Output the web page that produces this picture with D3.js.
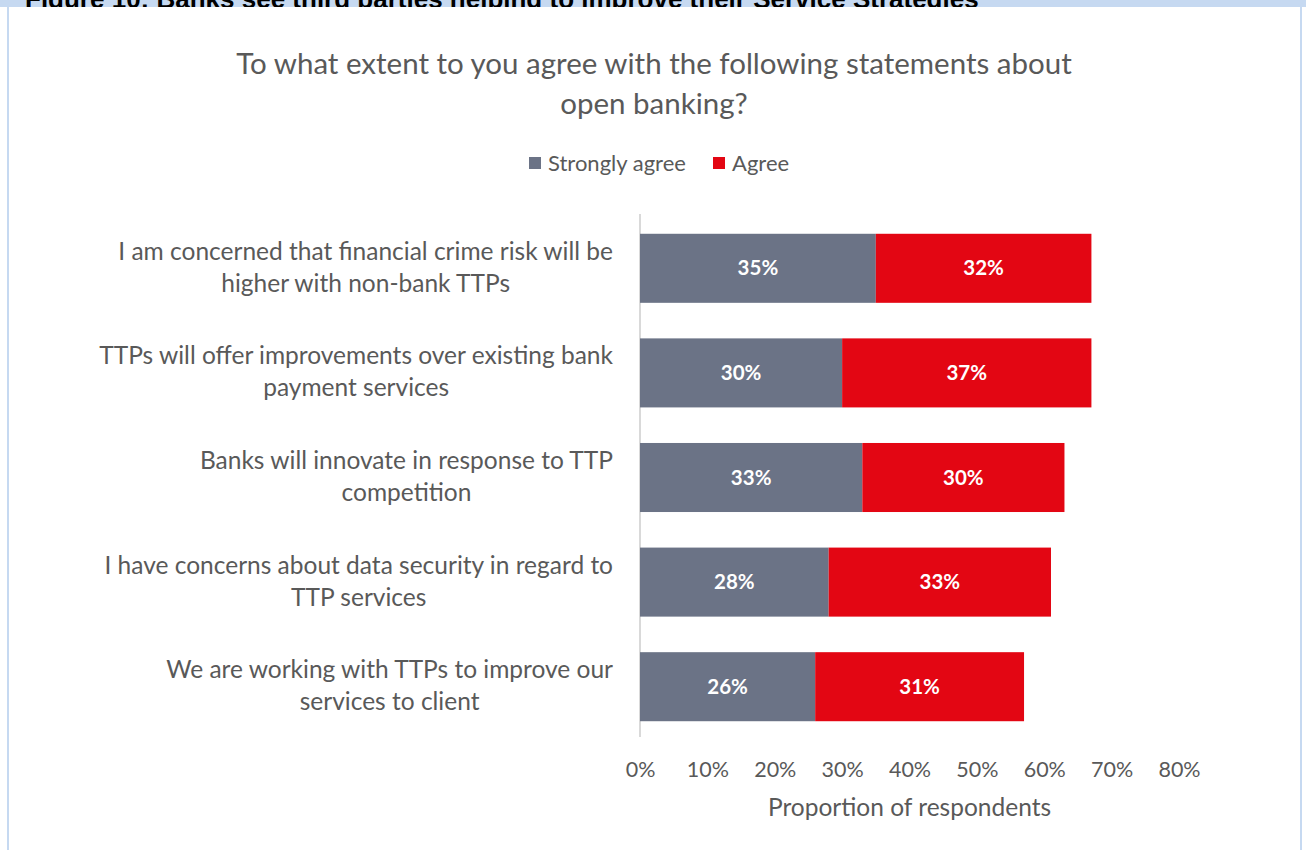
<!DOCTYPE html>
<html>
<head>
<meta charset="utf-8">
<script src="https://cdn.jsdelivr.net/npm/d3@7"></script>
<style>
  html, body { margin: 0; padding: 0; background: #fff; }
  svg { display: block; }
</style>
</head>
<body>
<svg id="chart" width="1306" height="850"></svg>
<script>
// Survey statements (top to bottom) and share of respondents per answer
const categories = [
  ["I am concerned that financial crime risk will be", "higher with non-bank TTPs"],
  ["TTPs will offer improvements over existing bank", "payment services"],
  ["Banks will innovate in response to TTP", "competition"],
  ["I have concerns about data security in regard to", "TTP services"],
  ["We are working with TTPs to improve our", "services to client"]
];
const stronglyAgree = [35, 30, 33, 28, 26];
const agree = [32, 37, 30, 33, 31];
const seriesNames = ["Strongly agree", "Agree"];
const xTicks = [0, 10, 20, 30, 40, 50, 60, 70, 80];

const colors = ["#6b7386", "#e30613"];
const textColor = "#595959";
const font = "Lato, 'Open Sans', sans-serif";

const svg = d3.select("#chart");

// Frame: header band (its caption is clipped by the band) and side borders
const defs = svg.append("defs");
defs.append("clipPath").attr("id", "headerClip")
  .append("rect").attr("x", 0).attr("y", 0).attr("width", 1306).attr("height", 7);
svg.append("rect").attr("x", 0).attr("y", 0).attr("width", 1306).attr("height", 7).attr("fill", "#c6d9f1");
svg.append("rect").attr("x", 7).attr("y", 0).attr("width", 2).attr("height", 850).attr("fill", "#c6d9f1");
svg.append("rect").attr("x", 1300).attr("y", 0).attr("width", 2).attr("height", 850).attr("fill", "#c6d9f1");
svg.append("text")
  .attr("clip-path", "url(#headerClip)")
  .attr("x", 25).attr("y", 8)
  .attr("font-family", "'Liberation Sans', Arial, sans-serif")
  .attr("font-weight", "bold").attr("font-size", 26).attr("fill", "#000")
  .text("Figure 10: Banks see third parties helping to improve their Service Strategies");

// Title
const title = svg.append("text")
  .attr("text-anchor", "middle")
  .attr("font-family", font).attr("font-size", 29.5).attr("fill", textColor);
title.append("tspan").attr("x", 654).attr("y", 74).text("To what extent to you agree with the following statements about");
title.append("tspan").attr("x", 654).attr("y", 114).text("open banking?");

// Legend
const legendItems = [
  { name: seriesNames[0], color: colors[0], x: 529 },
  { name: seriesNames[1], color: colors[1], x: 713 }
];
const lg = svg.selectAll("g.legend").data(legendItems).join("g")
  .attr("class", "legend")
  .attr("transform", d => `translate(${d.x},157)`);
lg.append("rect").attr("width", 12).attr("height", 12).attr("fill", d => d.color);
lg.append("text")
  .attr("x", 19).attr("y", 13.5)
  .attr("font-family", font).attr("font-size", 22).attr("fill", textColor)
  .text(d => d.name);

// Scales
const x = d3.scaleLinear().domain([0, 80]).range([640, 1179]);
const y = d3.scaleBand().domain(d3.range(categories.length)).range([216, 739]).paddingInner(0.34).paddingOuter(0.17);

// Category axis line
svg.append("line")
  .attr("x1", 640).attr("x2", 640).attr("y1", 214).attr("y2", 737)
  .attr("stroke", "#d9d9d9").attr("stroke-width", 2);

// Stacked bars
const stackData = categories.map((c, i) => ({ i, s: stronglyAgree[i], a: agree[i] }));
const stack = d3.stack().keys(["s", "a"])(stackData);
const layers = svg.selectAll("g.layer").data(stack).join("g")
  .attr("class", "layer")
  .attr("fill", (d, k) => colors[k]);
layers.selectAll("rect").data(d => d).join("rect")
  .attr("x", d => x(d[0]))
  .attr("width", d => x(d[1]) - x(d[0]))
  .attr("y", d => y(d.data.i))
  .attr("height", y.bandwidth());
layers.selectAll("text").data(d => d).join("text")
  .attr("x", d => (x(d[0]) + x(d[1])) / 2)
  .attr("y", d => y(d.data.i) + y.bandwidth() / 2)
  .attr("dy", "0.35em")
  .attr("text-anchor", "middle")
  .attr("font-family", font).attr("font-weight", "bold").attr("font-size", 20.5)
  .attr("fill", "#fff")
  .text(d => `${d[1] - d[0]}%`);

// Category labels: first line ends at the gutter, second line centred under it
const cl = svg.selectAll("text.cat").data(categories).join("text")
  .attr("class", "cat")
  .attr("text-anchor", "middle")
  .attr("font-family", font).attr("font-size", 24.5).attr("fill", textColor);
cl.each(function (lines, i) {
  const cy = y(i) + y.bandwidth() / 2;
  const t = d3.select(this);
  t.append("tspan").attr("y", cy - 17).attr("dy", "0.35em").text(lines[0]);
  t.append("tspan").attr("y", cy + 15).attr("dy", "0.35em").text(lines[1]);
  const spans = t.selectAll("tspan").nodes();
  const cx = 613 - spans[0].getComputedTextLength() / 2;
  spans.forEach(s => s.setAttribute("x", cx));
});

// X axis
const xAxis = d3.axisBottom(x).tickValues(xTicks).tickFormat(d => d + "%").tickSize(0).tickPadding(0);
const ax = svg.append("g").attr("transform", "translate(0,762)").call(xAxis);
ax.select(".domain").remove();
ax.selectAll("text")
  .attr("font-family", font).attr("font-size", 21.5).attr("fill", textColor)
  .attr("dy", "0.7em");

svg.append("text")
  .attr("x", (x(0) + x(80)) / 2).attr("y", 816)
  .attr("text-anchor", "middle")
  .attr("font-family", font).attr("font-size", 24.5).attr("fill", textColor)
  .text("Proportion of respondents");
</script>
</body>
</html>
